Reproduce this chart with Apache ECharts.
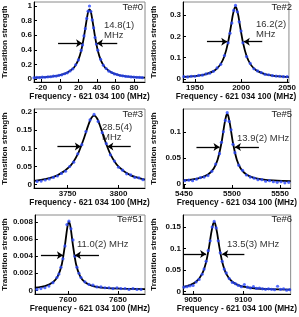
<!DOCTYPE html>
<html>
<head>
<meta charset="utf-8">
<script src="https://cdn.jsdelivr.net/npm/echarts@6/dist/echarts.min.js"></script>
<style>
html,body{margin:0;padding:0;background:#fff;}
#c{width:299px;height:317px;}
</style>
</head>
<body>
<div id="c"></div>
<script>
// ---------- Data ----------
const panelNames = ['Te#0', 'Te#2', 'Te#3', 'Te#5', 'Te#51', 'Te#6'];
const fwhmLabels = [['14.8(1)', 'MHz'], ['16.2(2)', 'MHz'], ['28.5(4)', 'MHz'], ['13.9(2) MHz'], ['11.0(2) MHz'], ['13.5(3) MHz']];

// Te#0
const te0X = [-28,-25,-22,-19,-16,-13,-10,-7,-4,-1,2,5,8,11,14,17,20,23,24.5,26,27.5,29,30.5,32,33.5,35,36.5,38,39.5,41,44,47,50,53,56,59,62,65,68,71,74,77,80,83,86,89];
const te0Y = [0.018,0.022,0.020,0.026,0.025,0.031,0.032,0.040,0.041,0.052,0.058,0.073,0.086,0.112,0.140,0.195,0.262,0.392,0.468,0.590,0.690,0.830,0.930,1.0,0.925,0.810,0.700,0.570,0.480,0.395,0.270,0.188,0.145,0.108,0.090,0.070,0.062,0.049,0.044,0.036,0.035,0.029,0.028,0.024,0.022,0.020];
const te0FitX = [-28,-22,-16,-10,-4,2,8,14,17,20,23,26,28,30,31,32,33,34,36,38,41,44,47,50,56,62,68,74,80,86,92];
const te0FitY = [0.019,0.023,0.027,0.034,0.043,0.060,0.088,0.142,0.191,0.267,0.388,0.578,0.740,0.890,0.938,0.955,0.938,0.890,0.740,0.578,0.388,0.267,0.191,0.142,0.088,0.060,0.043,0.034,0.027,0.023,0.019];

// Te#2
const te2X = [1938,1942,1946,1950,1954,1958,1962,1966,1970,1974,1978,1982,1986,1988,1990,1992,1994,1996,1998,2000,2002,2006,2010,2014,2018,2022,2026,2030,2034,2038,2042,2046,2050];
const te2Y = [0.011,0.010,0.013,0.013,0.017,0.018,0.024,0.027,0.036,0.052,0.069,0.110,0.170,0.215,0.262,0.322,0.345,0.315,0.268,0.225,0.170,0.105,0.073,0.048,0.038,0.030,0.022,0.020,0.016,0.014,0.013,0.011,0.011];
const te2FitX = [1938,1946,1954,1962,1970,1974,1978,1982,1986,1989,1991,1993,1994,1995,1997,1999,2002,2006,2010,2014,2018,2026,2034,2042,2052];
const te2FitY = [0.010,0.012,0.016,0.023,0.037,0.050,0.071,0.108,0.173,0.246,0.298,0.333,0.338,0.333,0.298,0.246,0.173,0.108,0.071,0.050,0.037,0.023,0.016,0.012,0.009];

// Te#3
const te3X = [3720,3724,3728,3732,3736,3740,3744,3748,3752,3756,3760,3764,3768,3772,3776,3780,3784,3788,3792,3796,3800,3804,3808,3812,3816,3820,3824];
const te3Y = [0.009,0.010,0.013,0.016,0.020,0.024,0.031,0.037,0.050,0.062,0.085,0.110,0.146,0.178,0.193,0.174,0.143,0.113,0.082,0.065,0.048,0.040,0.030,0.027,0.020,0.019,0.014];
const te3FitX = [3717,3728,3740,3752,3760,3766,3770,3773,3776,3779,3782,3786,3792,3800,3812,3826];
const te3FitY = [0.0105,0.0154,0.0257,0.0495,0.084,0.127,0.161,0.182,0.190,0.182,0.161,0.127,0.084,0.0495,0.0257,0.0143];

// Te#5
const te5X = [5451,5455,5459,5463,5467,5471,5475,5479,5483,5487,5489,5491,5493,5495,5497,5499,5501,5503,5507,5511,5515,5519,5523,5527,5531,5535,5539,5543,5547,5551,5555,5559];
const te5Y = [0.006,0.007,0.006,0.009,0.012,0.013,0.016,0.024,0.038,0.058,0.080,0.100,0.122,0.137,0.120,0.104,0.076,0.060,0.036,0.026,0.017,0.013,0.011,0.008,0.008,0.005,0.006,0.004,0.003,0.004,0.002,0.003];
const te5FitX = [5449,5459,5467,5475,5481,5485,5489,5492,5494,5495,5496,5498,5501,5505,5509,5515,5523,5535,5547,5561];
const te5FitY = [0.0069,0.0087,0.0116,0.018,0.0297,0.0463,0.0785,0.1136,0.1314,0.134,0.1314,0.1136,0.0785,0.0463,0.0297,0.018,0.0116,0.0078,0.0063,0.0054];

// Te#51
const te51X = [7569,7573,7577,7581,7585,7589,7591,7593,7595,7597,7599,7601,7603,7605,7607,7609,7611,7613,7617,7621,7625,7629,7633,7637,7641,7645,7649,7653,7657,7661,7665,7669,7673];
const te51Y = [0.0001,0.0002,0.0003,0.0005,0.0009,0.0015,0.0019,0.0027,0.0037,0.0052,0.0077,0.0081,0.0072,0.0059,0.0040,0.0027,0.0020,0.0015,0.0010,0.0007,0.0006,0.0004,0.0004,0.0003,0.0003,0.0002,0.0003,0.0002,0.0002,0.0001,0.0002,0.0001,0.0001];
const te51FitX = [7567,7577,7585,7590,7594,7597,7599,7600,7601,7602,7603,7605,7608,7612,7617,7625,7637,7653,7677];
const te51FitY = [0.0003,0.0005,0.00094,0.00168,0.00312,0.00527,0.00708,0.00775,0.0080,0.00775,0.00708,0.00527,0.00312,0.00168,0.00094,0.0005,0.00028,0.00019,0.00014];

// Te#6
const te6X = [9041,9044,9047,9050,9053,9056,9059,9061,9063,9065,9067,9069,9071,9073,9075,9077,9079,9081,9083,9086,9089,9092,9095,9098,9101,9104,9107,9110,9113,9116,9119,9122,9125,9128,9131,9134,9137,9140,9143,9146];
const te6Y = [0.010,0.011,0.013,0.014,0.022,0.028,0.040,0.052,0.070,0.095,0.118,0.150,0.163,0.148,0.118,0.090,0.070,0.052,0.043,0.030,0.021,0.018,0.014,0.011,0.016,0.010,0.008,0.011,0.007,0.008,0.006,0.005,0.006,0.005,0.004,0.012,0.005,0.006,0.003,0.004];
const te6FitX = [9040,9047,9053,9059,9063,9066,9068,9070,9071,9072,9074,9076,9079,9083,9089,9097,9111,9127,9147];
const te6FitY = [0.0101,0.0146,0.0225,0.041,0.0687,0.105,0.135,0.1576,0.161,0.1576,0.135,0.105,0.0687,0.041,0.0225,0.013,0.0074,0.0053,0.0042];

// Axis ranges and tick labels
const xRanges = [[-28, 92], [1937, 2052], [3717, 3826], [5449, 5561], [7567, 7677], [9040, 9147]];
const yRanges = [[-0.04, 1.055], [-0.014, 0.361], [-0.009, 0.208], [-0.008, 0.144], [-0.00043, 0.00882], [-0.006, 0.178]];
const xTicks = [[-20, 0, 20, 40, 60, 80], [1950, 2000, 2050], [3750, 3800], [5450, 5500, 5550], [7600, 7650], [9050, 9100]];
const yTicks = [[0, 0.2, 0.4, 0.6, 0.8, 1], [0, 0.1, 0.2, 0.3], [0, 0.05, 0.1, 0.15, 0.2], [0, 0.05, 0.1], [0, 0.002, 0.004, 0.006, 0.008], [0, 0.05, 0.1, 0.15]];

// FWHM arrows: [y, leftStart, leftTip, rightStart, rightTip]
const arrows = [
  [0.49, -2, 24, 62, 40],
  [0.175, 1963, 1985, 2023, 2003],
  [0.105, 3740, 3763, 3812, 3789],
  [0.071, 5463, 5487, 5528, 5503],
  [0.0041, 7573, 7595, 7631, 7607],
  [0.087, 9040, 9063, 9101, 9079]
];

// ---------- Chart ----------
const FONT = '"Liberation Sans", Arial, Helvetica, sans-serif';
const scatterX = [te0X, te2X, te3X, te5X, te51X, te6X];
const scatterY = [te0Y, te2Y, te3Y, te5Y, te51Y, te6Y];
const fitX = [te0FitX, te2FitX, te3FitX, te5FitX, te51FitX, te6FitX];
const fitY = [te0FitY, te2FitY, te3FitY, te5FitY, te51FitY, te6FitY];

const gridBoxes = [
  {left: 33, top: 2, width: 112, height: 80},
  {left: 183, top: 2, width: 111, height: 80},
  {left: 33, top: 109, width: 112, height: 79},
  {left: 183, top: 109, width: 111, height: 79},
  {left: 33, top: 215, width: 112, height: 79},
  {left: 183, top: 215, width: 111, height: 79}
];

const zip = (a, b) => a.map((v, i) => [v, b[i]]);
const plain = v => String(v);

const grids = [], xAxes = [], yAxes = [], series = [], graphics = [];
for (let i = 0; i < 6; i++) {
  grids.push(Object.assign({show: true, borderColor: '#8a8a8a', borderWidth: 1, backgroundColor: 'transparent', containLabel: false}, gridBoxes[i]));
  xAxes.push({
    gridIndex: i, type: 'value', min: xRanges[i][0], max: xRanges[i][1],
    name: 'Frequency - 621 034 100 (MHz)', nameLocation: 'middle', nameGap: 11,
    nameTextStyle: {fontSize: 8.3, fontWeight: 'bold', color: '#111', fontFamily: FONT},
    axisLine: {show: true, onZero: false, lineStyle: {color: '#000', width: 1}},
    axisTick: {show: true, inside: true, length: 3, customValues: xTicks[i], lineStyle: {color: '#000'}},
    axisLabel: {show: true, customValues: xTicks[i], formatter: plain, margin: 2, fontSize: 8, fontWeight: 'bold', color: '#111', fontFamily: FONT},
    splitLine: {show: false}
  });
  yAxes.push({
    gridIndex: i, type: 'value', min: yRanges[i][0], max: yRanges[i][1],
    name: 'Transition strength', nameLocation: 'middle', nameGap: 25,
    nameTextStyle: {fontSize: 8, fontWeight: 'bold', color: '#111', fontFamily: FONT},
    axisLine: {show: true, onZero: false, lineStyle: {color: '#000', width: 1}},
    axisTick: {show: true, inside: true, length: 3, customValues: yTicks[i], lineStyle: {color: '#000'}},
    axisLabel: {show: true, customValues: yTicks[i], formatter: plain, margin: 2, fontSize: 8, fontWeight: 'bold', color: '#111', fontFamily: FONT},
    splitLine: {show: false}
  });
  const a = arrows[i];
  series.push({
    type: 'line', xAxisIndex: i, yAxisIndex: i, data: zip(fitX[i], fitY[i]),
    smooth: 0.25, showSymbol: false, symbol: 'none', lineStyle: {color: '#000', width: 1.8}, z: 2, silent: true,
    markLine: {
      silent: true, symbol: ['none', 'arrow'], symbolSize: 6,
      lineStyle: {color: '#000', width: 1.3, type: 'solid'}, label: {show: false},
      data: [
        [{coord: [a[1], a[0]]}, {coord: [a[2], a[0]]}],
        [{coord: [a[3], a[0]]}, {coord: [a[4], a[0]]}]
      ]
    }
  });
  series.push({
    type: 'scatter', xAxisIndex: i, yAxisIndex: i, data: zip(scatterX[i], scatterY[i]),
    symbol: 'circle', symbolSize: 3.2, itemStyle: {color: '#2a48ff'}, z: 3, silent: true
  });
}

// Text annotations (panel names and widths)
const nameBoxes = [[143, 7], [292, 7], [143, 114], [292, 114], [143, 219], [292, 219]];
const fwhmBoxes = [[104, 25], [256, 24], [102, 127], [237, 138], [77, 244], [227, 244]];
for (let i = 0; i < 6; i++) {
  graphics.push({type: 'text', x: nameBoxes[i][0], y: nameBoxes[i][1], silent: true,
    style: {text: panelNames[i], fill: '#222', font: '9.5px ' + FONT, align: 'right', verticalAlign: 'middle'}});
  fwhmLabels[i].forEach((t, k) => {
    graphics.push({type: 'text', x: fwhmBoxes[i][0], y: fwhmBoxes[i][1] + k * 10, silent: true,
      style: {text: t, fill: '#333', font: '9.5px ' + FONT, align: 'left', verticalAlign: 'middle'}});
  });
}

const chart = echarts.init(document.getElementById('c'), null, {renderer: 'canvas'});
chart.setOption({
  animation: false,
  backgroundColor: '#fff',
  textStyle: {fontFamily: FONT},
  grid: grids, xAxis: xAxes, yAxis: yAxes, series: series, graphic: graphics
});
</script>
</body>
</html>
